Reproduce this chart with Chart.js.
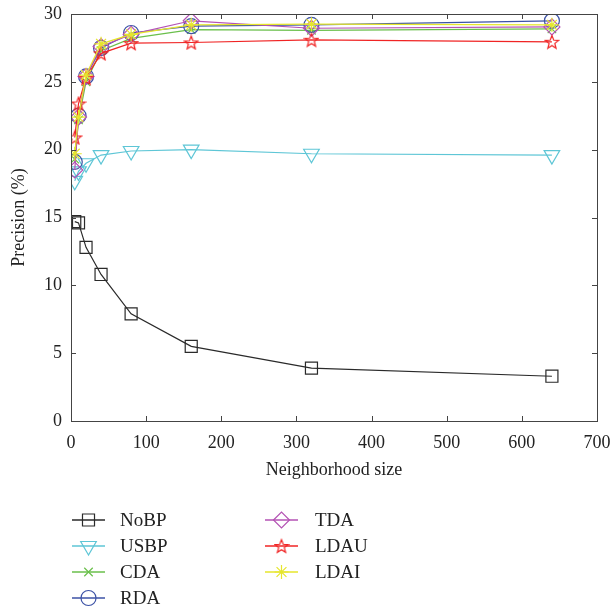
<!DOCTYPE html>
<html>
<head>
<meta charset="utf-8">
<script src="https://cdn.jsdelivr.net/npm/chart.js@4.4.0/dist/chart.umd.min.js"></script>
<style>
  html, body { margin: 0; padding: 0; background: #fff; }
  #wrap { width: 610px; height: 612px; }
</style>
</head>
<body>
<div id="wrap"><canvas id="precisionChart" width="610" height="612"></canvas></div>
<script>
// Neighborhood sizes and precision (%) per method
const sizes = [5, 10, 20, 40, 80, 160, 320, 640];
const noBP = [14.7, 14.6, 12.8, 10.8, 7.9, 5.5, 3.9, 3.3];
const usBP = [17.7, 18.4, 19.0, 19.6, 19.9, 20.0, 19.7, 19.6];
const cda = [19.3, 22.2, 25.0, 27.3, 28.2, 28.85, 28.8, 28.9];
const rda = [19.1, 22.5, 25.4, 27.5, 28.6, 29.1, 29.2, 29.5];
const tda = [18.5, 22.4, 25.4, 27.6, 28.5, 29.5, 28.95, 29.05];
const ldau = [20.9, 23.4, 25.3, 27.1, 27.85, 27.9, 28.1, 27.95];
const ldai = [19.7, 22.4, 25.5, 27.8, 28.5, 29.2, 29.25, 29.2];

const xTicks = [0, 100, 200, 300, 400, 500, 600, 700];
const yTicks = [0, 5, 10, 15, 20, 25, 30];

const FONT = "'Liberation Serif', 'DejaVu Serif', serif";

// hollow pentagram for LDAU
function makeStar(color) {
  const c = document.createElement("canvas");
  c.width = 16; c.height = 16;
  const g = c.getContext("2d");
  g.strokeStyle = color;
  g.lineWidth = 1.2;
  g.beginPath();
  for (let i = 0; i < 10; i++) {
    const r = i % 2 === 0 ? 7 : 3;
    const a = -Math.PI / 2 + i * Math.PI / 5;
    const px = 8 + r * Math.cos(a), py = 8.7 + r * Math.sin(a);
    if (i === 0) g.moveTo(px, py); else g.lineTo(px, py);
  }
  g.closePath();
  g.stroke();
  return c;
}

function series(label, values, color, style, radius, rotation) {
  return {
    label,
    data: sizes.map((x, i) => ({ x, y: values[i] })),
    borderColor: color,
    borderWidth: 1.2,
    pointStyle: style,
    pointRadius: radius,
    pointRotation: rotation || 0,
    pointBorderColor: color,
    pointBackgroundColor: "rgba(0,0,0,0)",
    pointBorderWidth: 1.2,
    tension: 0,
    fill: false
  };
}

const datasets = [
  series("NoBP", noBP, "#2a2a2a", "rect", 8.5),
  series("USBP", usBP, "#5ec6d6", "triangle", 9, 180),
  series("CDA", cda, "#6abf4b", "crossRot", 6),
  series("RDA", rda, "#3c52a6", "circle", 7.5),
  series("TDA", tda, "#b452b4", "rectRot", 8),
  series("LDAU", ldau, "#f02424", makeStar("#f02424"), 8),
  series("LDAI", ldai, "#e6e62c", "star", 7)
];
// later series drawn on top
datasets.forEach((d, i) => { d.order = datasets.length - i; });

// box, inward ticks, axis titles and legend
const framePlugin = {
  id: "frame",
  afterDraw(chart) {
    const { ctx, chartArea: a, scales } = chart;
    ctx.save();
    ctx.strokeStyle = "#444";
    ctx.lineWidth = 1;
    ctx.strokeRect(a.left + 0.5, a.top + 0.5, a.right - a.left, a.bottom - a.top);
    ctx.beginPath();
    xTicks.forEach(v => {
      const px = Math.round(scales.x.getPixelForValue(v)) + 0.5;
      ctx.moveTo(px, a.bottom); ctx.lineTo(px, a.bottom - 5);
      ctx.moveTo(px, a.top); ctx.lineTo(px, a.top + 5);
    });
    yTicks.forEach(v => {
      const py = Math.round(scales.y.getPixelForValue(v)) + 0.5;
      ctx.moveTo(a.left, py); ctx.lineTo(a.left + 5, py);
      ctx.moveTo(a.right, py); ctx.lineTo(a.right - 5, py);
    });
    ctx.stroke();

    ctx.fillStyle = "#222";
    ctx.font = "18px " + FONT;
    ctx.textAlign = "center";
    ctx.textBaseline = "middle";
    ctx.fillText("Neighborhood size", (a.left + a.right) / 2, 470);
    ctx.save();
    ctx.translate(19, (a.top + a.bottom) / 2);
    ctx.rotate(-Math.PI / 2);
    ctx.fillText("Precision (%)", 0, 0);
    ctx.restore();

    // legend: two columns
    const cols = [
      { x1: 72, x2: 105, tx: 120, rows: [0, 1, 2, 3] },
      { x1: 265, x2: 298, tx: 315, rows: [4, 5, 6] }
    ];
    const rowY = [520, 546, 572, 598];
    ctx.font = "19px " + FONT;
    ctx.textAlign = "left";
    cols.forEach(col => {
      col.rows.forEach((di, r) => {
        const ds = datasets[di];
        const y = rowY[r];
        ctx.strokeStyle = ds.borderColor;
        ctx.lineWidth = 1.5;
        ctx.beginPath();
        ctx.moveTo(col.x1, y); ctx.lineTo(col.x2, y);
        ctx.stroke();
        ctx.fillStyle = "rgba(0,0,0,0)";
        ctx.lineWidth = 1.2;
        Chart.helpers.drawPoint(ctx, {
          pointStyle: ds.pointStyle,
          rotation: ds.pointRotation,
          radius: ds.pointRadius,
          borderWidth: 1.2
        }, (col.x1 + col.x2) / 2, y);
        ctx.fillStyle = "#222";
        ctx.fillText(ds.label, col.tx, y + 1);
      });
    });
    ctx.restore();
  }
};

new Chart(document.getElementById("precisionChart"), {
  type: "line",
  data: { datasets },
  options: {
    responsive: false,
    animation: false,
    layout: { padding: { top: 14, right: 13, left: 0, bottom: 0 } },
    plugins: { legend: { display: false }, tooltip: { enabled: false } },
    scales: {
      x: {
        type: "linear",
        min: 0, max: 700,
        afterBuildTicks: s => { s.ticks = xTicks.map(v => ({ value: v })); },
        afterFit: s => { s.height = 191; s.paddingLeft = 0; s.paddingRight = 0; },
        grid: { display: false, drawTicks: false },
        border: { display: false },
        ticks: { color: "#222", padding: 11, maxRotation: 0, font: { family: FONT, size: 18 } }
      },
      y: {
        min: 0, max: 30,
        afterBuildTicks: s => { s.ticks = yTicks.map(v => ({ value: v })); },
        afterFit: s => { s.width = 71; s.paddingTop = 0; s.paddingBottom = 0; },
        grid: { display: false, drawTicks: false },
        border: { display: false },
        ticks: { color: "#222", padding: 9, font: { family: FONT, size: 18 } }
      }
    }
  },
  plugins: [framePlugin]
});
</script>
</body>
</html>
